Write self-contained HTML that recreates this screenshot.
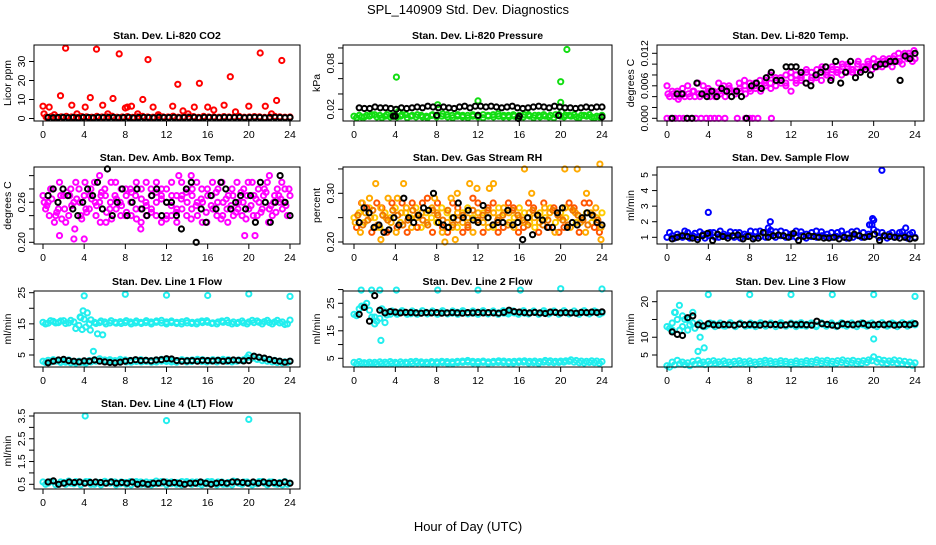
<!DOCTYPE html>
<html><head><meta charset="utf-8">
<style>
html,body{margin:0;padding:0;background:#fff;}
svg text{font-family:"Liberation Sans",sans-serif;fill:#000;}
</style></head>
<body>
<svg id="chart" width="936" height="540" viewBox="0 0 936 540" xmlns="http://www.w3.org/2000/svg">
<rect width="936" height="540" fill="#fff"/>
<text x="468" y="14" font-size="13" text-anchor="middle">SPL_140909  Std. Dev. Diagnostics</text>
<text x="468" y="531" font-size="13" text-anchor="middle">Hour of Day (UTC)</text>
</svg>
<script>
// ---------- data ----------
const hourTicks = [0,4,8,12,16,20,24];
const hourLabels = ["0","4","8","12","16","20","24"];

// CO2
const co2OutX = [0,0.1,0.6,1.1,1.7,2.2,2.8,3.3,4.1,4.6,5.2,5.8,6.3,6.8,7.4,8,8.2,8.6,9.2,9.7,10.2,10.7,11.2,12.6,13.1,13.6,14.1,14.7,15.2,16,16.6,17.6,18.2,18.7,20,21.1,21.6,22.2,22.7,23.2];
const co2OutY = [6.5,2.5,6,2,12,37,7,2.5,6,11,36.5,7,2.5,10.5,34,5.5,6,6.5,2.5,10,31,6,2,6.5,18,4,2.5,6,18.5,6,4.5,7,22,3.5,6.5,34.5,6.5,2.5,9.5,30.5];
const co2Red = [0.8,1.0,0.7,0.9,1.1,0.8,0.6,1.0,0.9,0.7,1.1,0.8,0.9,1.2,0.7,0.8,1.0,0.6,0.9,1.1,0.8,0.7,1.0,0.9,0.8,1.2,0.7,0.9,0.8,1.0,0.6,1.1,0.8,0.9,0.7,1.0,0.8,0.9,1.1,0.7,0.8,1.0,0.9,0.6,0.8,1.1,0.9,0.7,0.8];
const co2Black = [0.5,0.4,0.5,0.6,0.4,0.5,0.3,0.6,0.5,0.4,0.6,0.5,0.5,0.6,0.4,0.5,0.6,0.3,0.5,0.6,0.5,0.4,0.6,0.5,0.5,0.6,0.4,0.5,0.5,0.6,0.3,0.6,0.5,0.5,0.4,0.6,0.5,0.5,0.6,0.4,0.5,0.6,0.5,0.3,0.5,0.6,0.5,0.4,0.5];

// Pressure
const presGreenA = [0.011,0.012,0.010,0.011,0.013,0.012,0.011,0.010,0.012,0.011,0.013,0.011,0.010,0.012,0.011,0.012,0.010,0.011,0.013,0.012,0.011,0.010,0.012,0.011,0.012,0.013,0.011,0.010,0.011,0.012,0.010,0.011,0.012,0.013,0.011,0.012,0.010,0.011,0.012,0.013,0.011,0.012,0.011,0.010,0.012,0.011,0.010,0.011,0.012];
const presGreenB = [0.009,0.010,0.012,0.013,0.010,0.009,0.013,0.012,0.010,0.013,0.009,0.012,0.013,0.010,0.009,0.013,0.012,0.014,0.010,0.009,0.013,0.012,0.009,0.013,0.010,0.009,0.012,0.013,0.014,0.010,0.012,0.013,0.009,0.010,0.013,0.009,0.012,0.013,0.010,0.009,0.013,0.010,0.012,0.013,0.009,0.012,0.013,0.009,0.010];
const presOutX = [4.1,4.3,8.1,12,20,20,20.1,20.6];
const presOutY = [0.062,0.017,0.026,0.031,0.056,0.029,0.017,0.098];
const presBlack = [0.022,0.021,0.021,0.023,0.022,0.022,0.021,0.020,0.022,0.021,0.022,0.023,0.022,0.024,0.023,0.022,0.023,0.022,0.021,0.023,0.024,0.022,0.024,0.024,0.023,0.024,0.023,0.022,0.023,0.024,0.022,0.021,0.022,0.023,0.024,0.023,0.022,0.024,0.023,0.022,0.022,0.021,0.022,0.023,0.022,0.023,0.023];
const presBlackLowX = [4,3.8,8,12,16,15.9,19.8,24];
const presBlackLowY = [0.011,0.011,0.012,0.012,0.011,0.008,0.012,0.010];

// Li-820 temperature
const tempMagA = [0.006,0.005,0.005,0.0055,0.006,0.005,0.0065,0.006,0.0055,0.005,0.0065,0.006,0.006,0.005,0.0065,0.007,0.0065,0.006,0.007,0.0065,0.008,0.007,0.0075,0.0065,0.0085,0.007,0.008,0.0085,0.0075,0.009,0.0095,0.008,0.009,0.0085,0.0095,0.010,0.009,0.0105,0.0095,0.010,0.011,0.010,0.0105,0.011,0.0115,0.0105,0.012,0.0115,0.011];
const tempMagB = [0.004,0.004,0.004,0.004,0.004,0.004,0.004,0.0045,0.004,0.004,0.0045,0.004,0.005,0.0045,0.005,0.0045,0.005,0.0055,0.005,0.006,0.0055,0.006,0.0065,0.006,0.005,0.0065,0.007,0.0065,0.007,0.0075,0.007,0.008,0.0075,0.0085,0.008,0.0085,0.009,0.0085,0.009,0.0095,0.009,0.0095,0.0095,0.010,0.0095,0.0105,0.010,0.011,0.0105];
const tempMagC = [0.0045,0.0045,0.0035,0.0045,0.0045,0.005,0.0045,0.0045,0.005,0.0045,0.005,0.005,0.0055,0.005,0.0055,0.006,0.0055,0.0065,0.006,0.007,0.0065,0.0075,0.007,0.008,0.0075,0.008,0.0075,0.009,0.0085,0.008,0.009,0.0085,0.0095,0.009,0.010,0.0095,0.0085,0.010,0.0095,0.0105,0.010,0.0105,0.011,0.0105,0.011,0.012,0.0115,0.012,0.0125];
const tempZeroX = [0,0.4,0.8,1.2,1.6,2.0,2.4,2.8,3.3,3.8,4.2,4.6,5.0,5.6,6.8,7.6,8.0,8.3,8.8,10.1];
const tempZeroY = [0,0,0,0,0,0,0,0,0,0,0,0,0,0,0,0,0,0,0,0];
const tempBlack = [0.000,0.0045,0.0045,0.000,0.000,0.0065,0.0045,0.004,0.005,0.004,0.0055,0.005,0.004,0.005,0.004,0.000,0.006,0.0065,0.0055,0.0075,0.0085,0.007,0.007,0.0095,0.0095,0.0095,0.0085,0.0065,0.006,0.008,0.0085,0.0095,0.007,0.0105,0.0065,0.0085,0.0105,0.0075,0.0085,0.009,0.008,0.0095,0.010,0.010,0.0105,0.0105,0.007,0.0115,0.011,0.012];

// Ambient box temperature
const ambA = [0.27,0.26,0.28,0.25,0.27,0.24,0.26,0.28,0.27,0.25,0.29,0.26,0.28,0.25,0.27,0.26,0.24,0.28,0.27,0.25,0.26,0.28,0.24,0.27,0.26,0.29,0.25,0.27,0.26,0.28,0.24,0.26,0.27,0.25,0.28,0.26,0.27,0.24,0.26,0.28,0.25,0.27,0.26,0.28,0.25,0.27,0.26,0.28,0.27];
const ambB = [0.25,0.28,0.24,0.27,0.23,0.28,0.29,0.24,0.25,0.28,0.24,0.27,0.23,0.29,0.25,0.28,0.27,0.24,0.29,0.28,0.24,0.25,0.29,0.23,0.28,0.24,0.27,0.29,0.24,0.25,0.29,0.28,0.23,0.27,0.24,0.29,0.25,0.28,0.29,0.24,0.27,0.29,0.24,0.25,0.29,0.24,0.28,0.25,0.24];
const ambC = [0.26,0.24,0.23,0.29,0.25,0.27,0.22,0.26,0.29,0.27,0.26,0.23,0.27,0.26,0.29,0.24,0.28,0.26,0.25,0.23,0.29,0.27,0.26,0.28,0.24,0.27,0.23,0.25,0.28,0.27,0.26,0.23,0.28,0.29,0.26,0.24,0.23,0.27,0.25,0.26,0.29,0.24,0.28,0.27,0.23,0.26,0.27,0.26,0.28];
const ambD = [0.255,0.265,0.245,0.235,0.275,0.255,0.265,0.235,0.245,0.265,0.255,0.275,0.245,0.235,0.265,0.255,0.245,0.275,0.235,0.265,0.255,0.245,0.275,0.265,0.235,0.255,0.245,0.265,0.275,0.235,0.255,0.265,0.245,0.255,0.275,0.235,0.265,0.255,0.245,0.275,0.235,0.255,0.265,0.245,0.275,0.255,0.245,0.265,0.255];
const ambOutX = [1.6,3.0,4.0,5.5,9.5,13.2,14.4,19.6,20.6,22.0,23.2];
const ambOutY = [0.21,0.205,0.205,0.3,0.22,0.3,0.3,0.21,0.21,0.3,0.29];
const ambBlack = [0.27,0.28,0.26,0.28,0.27,0.25,0.24,0.26,0.28,0.27,0.29,0.25,0.31,0.24,0.26,0.28,0.24,0.26,0.28,0.25,0.24,0.27,0.28,0.24,0.26,0.26,0.24,0.22,0.28,0.29,0.20,0.25,0.23,0.27,0.25,0.29,0.28,0.25,0.26,0.27,0.25,0.27,0.23,0.29,0.26,0.23,0.26,0.30,0.26,0.24];

// Gas stream RH
const rhA = [0.25,0.26,0.24,0.27,0.25,0.23,0.26,0.25,0.27,0.24,0.26,0.25,0.27,0.23,0.26,0.25,0.24,0.27,0.26,0.25,0.23,0.26,0.27,0.25,0.24,0.26,0.25,0.23,0.27,0.26,0.24,0.25,0.27,0.26,0.24,0.23,0.26,0.25,0.27,0.24,0.26,0.25,0.27,0.24,0.25,0.26,0.24,0.25,0.26];
const rhB = [0.23,0.28,0.27,0.22,0.28,0.27,0.22,0.28,0.23,0.28,0.22,0.28,0.23,0.28,0.29,0.22,0.28,0.23,0.22,0.28,0.27,0.22,0.23,0.29,0.28,0.22,0.27,0.28,0.22,0.23,0.28,0.27,0.22,0.23,0.28,0.27,0.22,0.28,0.23,0.27,0.22,0.23,0.28,0.27,0.22,0.28,0.28,0.23,0.22];
const rhC = [0.24,0.22,0.26,0.25,0.23,0.27,0.25,0.24,0.22,0.26,0.27,0.23,0.25,0.26,0.24,0.27,0.26,0.22,0.24,0.23,0.26,0.24,0.25,0.22,0.26,0.24,0.23,0.26,0.25,0.27,0.26,0.23,0.25,0.24,0.26,0.25,0.24,0.27,0.26,0.22,0.25,0.27,0.23,0.26,0.24,0.22,0.26,0.27,0.23];
const rhD = [0.255,0.235,0.245,0.265,0.235,0.255,0.245,0.265,0.255,0.235,0.245,0.265,0.255,0.245,0.235,0.265,0.255,0.245,0.265,0.235,0.245,0.255,0.235,0.265,0.245,0.255,0.265,0.235,0.245,0.255,0.235,0.265,0.255,0.245,0.235,0.265,0.255,0.235,0.245,0.265,0.255,0.245,0.235,0.265,0.255,0.245,0.235,0.255,0.245];
const rhOutX = [0.8,1.5,2.1,3.3,4.2,4.8,7.8,9.4,10,11.2,11.9,13.1,13.5,16.5,17.2,20.4,21.6,22.5,23.8,23.9,2.6,8.8,9.8];
const rhOutY = [0.28,0.29,0.32,0.29,0.29,0.32,0.29,0.29,0.30,0.32,0.31,0.31,0.32,0.35,0.30,0.35,0.35,0.30,0.36,0.205,0.205,0.20,0.205];
const rhBlack = [0.24,0.27,0.26,0.23,0.235,0.22,0.225,0.25,0.235,0.29,0.25,0.24,0.255,0.27,0.265,0.30,0.24,0.235,0.23,0.25,0.28,0.25,0.265,0.245,0.24,0.275,0.25,0.235,0.24,0.24,0.265,0.235,0.24,0.205,0.25,0.215,0.255,0.245,0.23,0.23,0.26,0.27,0.23,0.24,0.235,0.25,0.26,0.255,0.24,0.235];

// Sample flow
const sampA = [1.0,1.1,1.2,1.0,1.3,1.1,1.0,1.2,1.1,1.3,1.0,1.2,1.1,1.0,1.3,1.2,1.1,1.0,1.4,1.3,1.2,1.0,1.1,1.3,1.2,1.0,1.1,1.2,1.3,1.0,1.1,1.2,1.0,1.3,1.1,1.2,1.0,1.1,1.3,1.2,1.5,1.0,1.1,1.2,1.0,1.3,1.1,1.2,1.0];
const sampB = [1.3,0.95,1.05,1.4,0.95,1.25,1.35,0.95,1.3,1.0,1.4,1.05,1.35,1.3,0.95,1.05,1.4,1.35,1.05,1.0,1.45,1.35,1.4,1.0,1.05,1.4,1.35,0.95,1.05,1.4,1.35,1.0,1.3,1.05,1.4,0.95,1.35,1.4,1.0,1.05,1.8,1.35,1.3,0.95,1.3,1.05,1.35,0.95,1.3];
const sampOutX = [4.0,9.8,10.0,19.6,19.9,20.0,20.8,23.1];
const sampOutY = [2.6,1.6,2.0,1.8,2.2,2.1,5.3,1.6];
const sampBlack = [0.9,1.0,1.1,1.05,0.95,0.85,1.1,1.25,0.8,1.2,1.05,0.95,1.1,1.15,0.9,1.05,0.9,0.95,1.3,1.0,1.1,1.15,1.1,1.0,1.25,0.8,1.05,1.1,1.05,1.0,0.95,0.95,1.0,0.9,1.0,0.95,1.2,1.1,1.0,1.05,1.2,0.8,1.1,1.05,1.0,0.95,1.0,0.9,0.95];

// Line 1 flow
const l1HighA = [15.5,15.2,15.8,15.4,16.0,15.3,15.6,14.5,16.5,15.0,15.5,15.4,15.6,15.3,15.5,15.7,15.4,15.6,15.3,15.5,15.4,15.6,15.5,15.3,15.6,15.4,15.5,15.7,15.3,15.5,15.6,15.4,15.5,15.3,15.6,15.5,15.4,15.6,15.5,15.3,15.6,15.4,15.5,15.7,15.4,15.6,15.3,14.8,16.2];
const l1HighB = [15.0,16.0,15.3,15.9,15.1,16.1,13.5,17.0,14.0,16.3,15.1,15.9,15.0,16.0,15.2,15.1,16.0,15.0,15.9,15.1,16.0,15.0,15.9,16.1,15.0,15.9,15.1,15.0,16.0,15.1,15.0,15.9,16.0,15.1,15.0,15.9,16.1,15.0,15.1,15.9,15.0,16.1,15.9,15.0,16.1,15.0,16.1,15.6,15.0];
const l1LowA = [3.0,3.3,3.5,3.2,3.0,3.4,2.8,3.0,2.6,3.2,3.5,3.8,3.4,3.5,3.2,3.6,3.4,3.3,3.2,3.5,3.3,3.2,3.4,3.6,3.3,3.4,3.2,3.5,3.3,3.4,3.6,3.5,3.3,3.5,3.4,3.6,3.5,3.3,3.4,3.5,5.0,4.6,4.2,3.8,3.5,3.3,3.0,2.8,3.0];
const l1LowB = [2.6,2.8,3.0,2.6,2.7,2.5,2.4,2.6,2.4,2.8,3.0,3.1,2.9,3.0,2.8,3.0,2.8,2.7,2.9,2.8,2.9,2.7,2.8,3.0,2.9,2.8,2.7,3.0,2.8,2.9,3.1,2.9,2.8,3.0,2.8,3.1,2.9,2.8,3.0,3.2,4.2,4.0,3.6,3.2,3.0,2.8,2.6,2.5,2.6];
const l1OutX = [4.0,8.0,12.0,16.0,20.0,24.0,3.6,3.9,4.3,4.6,5.3,5.8,4.9,3.8];
const l1OutY = [24,24.5,24.2,24.1,24.6,23.8,17.2,19.2,18.5,13,11.8,11.5,6.2,13.2];
const l1Black = [2.5,3.0,3.4,3.6,3.2,3.0,2.8,3.1,3.0,3.4,3.0,2.8,2.6,2.5,2.7,3.0,3.2,3.5,3.2,3.3,3.1,3.4,3.5,3.8,3.7,3.2,3.0,3.1,3.2,3.0,3.3,3.2,3.1,3.3,3.0,3.2,3.4,3.3,3.1,3.2,4.6,4.3,4.0,3.6,3.2,3.0,2.7,3.0];

// Line 2 flow
const l2HighA = [21,23,24,22.5,20,19.5,22,21,21.5,21.8,21.5,21.2,21.6,21.4,21.7,21.5,21.3,21.6,21.5,21.4,21.7,21.5,21.6,21.4,21.5,21.7,21.3,21.6,21.5,21.4,21.7,21.5,21.6,21.4,21.5,21.7,21.4,21.6,21.5,21.7,21.4,21.6,21.5,21.4,21.7,21.5,21.6,21.8,21.5];
const l2HighB = [20.5,24,25,20,18.5,23,20.8,22.2,21,22.3,21,22.2,21.0,22.3,21.1,22.2,21.0,22.3,21.1,22.2,21.0,22.3,21.1,22.2,21.0,22.3,21.1,22.2,21.0,22.3,21.1,22.2,21.0,22.3,21.1,22.2,21.0,22.3,21.1,22.2,21.0,22.3,21.1,22.2,21.0,22.3,21.1,22.2,21.0];
const l2LowA = [3.5,3.8,3.4,3.6,3.5,3.7,3.6,3.8,3.5,3.7,3.6,3.8,3.9,3.7,3.6,3.8,3.7,3.9,3.8,3.7,3.9,4.0,4.2,3.9,3.8,4.0,3.7,3.9,4.1,4.0,3.8,3.9,4.0,4.1,3.9,4.0,3.8,4.2,4.1,3.9,4.0,4.1,4.4,4.2,4.0,3.9,4.1,4.0,3.8];
const l2LowB = [3.0,3.2,3.0,3.1,2.9,3.1,3.0,3.2,3.1,3.0,3.2,3.1,3.3,3.2,3.0,3.3,3.2,3.4,3.2,3.1,3.4,3.5,3.6,3.3,3.2,3.5,3.2,3.4,3.5,3.4,3.3,3.3,3.5,3.6,3.3,3.4,3.2,3.6,3.5,3.4,3.5,3.6,3.9,3.6,3.4,3.3,3.5,3.4,3.2];
const l2OutX = [0.7,1.7,2.5,4.1,8.1,12.0,16.1,20.0,24.0,2.6,2.0,3.0];
const l2OutY = [29.8,29.8,29.8,29.8,29.8,29.8,29.8,30.3,30.2,11.5,17.5,18];
const l2Black = [21,23.5,18.5,27.8,22.5,21.5,22,21.8,21.5,21.7,21.6,21.5,21.4,21.6,21.5,21.6,21.4,21.5,21.6,21.5,21.4,21.6,21.5,21.7,21.5,21.6,21.5,21.4,21.7,22.5,22,21.8,21.6,21.5,21.7,21.5,21.3,21.8,21.7,21.5,21.6,21.5,21.4,21.7,21.6,21.8,21.6,21.9];

// Line 3 flow
const l3HighA = [13,14,15,13,12,14,13.5,13,13.5,13.8,13.5,13.2,13.6,13.4,13.7,13.5,13.3,13.6,13.5,13.4,13.7,13.5,13.6,13.4,13.5,13.7,13.3,13.6,13.5,13.4,13.7,13.5,13.6,13.4,13.5,13.7,13.4,13.6,13.5,13.7,13.4,13.6,13.5,13.4,13.7,13.5,13.6,13.8,13.5];
const l3HighB = [12.5,17,12,15,13.5,12.5,14,13,14,13,14,13.1,14.1,13,14,13.1,14,13.0,14.1,13.1,14,13.0,14.1,13.1,14,13.0,14.1,13.1,14,13.0,14.1,13.1,14,13.0,14.1,13.1,14,13.0,14.1,13.1,14,13.0,14.1,13.1,14,13.0,14.1,13.1,14];
const l3LowA = [2.0,3.0,3.5,3.0,2.8,3.2,3.5,3.0,3.2,3.4,3.1,3.3,3.0,3.2,3.4,3.1,3.3,3.0,3.2,3.5,3.3,3.1,3.4,3.2,3.0,3.3,3.1,3.4,3.2,3.6,3.3,3.5,3.2,3.4,3.6,3.3,3.5,3.2,3.4,3.6,4.5,3.8,3.5,3.3,3.6,3.4,3.2,3.0,2.8];
const l3LowB = [1.6,2.2,2.5,2.3,2.0,2.4,2.6,2.3,2.5,2.7,2.4,2.6,2.3,2.5,2.7,2.4,2.6,2.3,2.5,2.8,2.6,2.4,2.7,2.5,2.3,2.6,2.4,2.7,2.5,2.9,2.6,2.8,2.5,2.7,2.9,2.6,2.8,2.5,2.7,2.9,3.4,3.0,2.8,2.6,2.9,2.7,2.5,2.3,2.1];
const l3OutX = [0.8,1.2,1.5,2.0,2.5,3.2,3.6,3.0,4.0,8.0,12.0,16.0,20.0,24.0,20.0,0.5];
const l3OutY = [17,19,16,15,17,10,7,6,22,22,22,22,22,21.5,9.5,12];
const l3Black = [11.5,10.8,10.5,15.5,16,13.5,13.2,13.8,13.5,13.4,13.6,13.5,13.4,13.7,13.5,13.6,13.5,13.4,13.7,13.5,13.6,13.4,13.5,13.7,13.5,13.6,13.5,13.4,14.5,13.8,13.6,13.4,13.2,13.8,13.6,13.5,13.7,13.9,13.4,13.5,13.6,13.5,13.7,13.4,13.5,13.6,13.5,13.8];

// Line 4 flow
const l4A = [0.6,0.55,0.62,0.5,0.58,0.64,0.52,0.6,0.56,0.62,0.5,0.58,0.63,0.55,0.6,0.52,0.58,0.62,0.55,0.6,0.5,0.58,0.64,0.55,0.6,0.53,0.58,0.62,0.55,0.6,0.52,0.58,0.62,0.55,0.6,0.5,0.58,0.64,0.55,0.6,0.53,0.58,0.62,0.55,0.6,0.52,0.58,0.62,0.55];
const l4B = [0.5,0.62,0.48,0.6,0.5,0.55,0.62,0.48,0.62,0.5,0.6,0.48,0.55,0.62,0.48,0.6,0.5,0.48,0.62,0.5,0.6,0.48,0.52,0.62,0.48,0.6,0.5,0.48,0.62,0.5,0.6,0.48,0.52,0.62,0.48,0.6,0.5,0.48,0.62,0.5,0.6,0.48,0.52,0.62,0.48,0.6,0.5,0.48,0.5];
const l4OutX = [4.1,12.0,20.0];
const l4OutY = [3.5,3.3,3.35];
const l4Black = [0.6,0.65,0.5,0.55,0.6,0.58,0.6,0.55,0.58,0.6,0.58,0.55,0.6,0.55,0.58,0.55,0.6,0.5,0.55,0.5,0.55,0.55,0.6,0.55,0.58,0.55,0.5,0.55,0.55,0.6,0.55,0.5,0.55,0.58,0.55,0.6,0.6,0.58,0.55,0.6,0.55,0.6,0.55,0.58,0.55,0.6,0.55];

// ---------- layout ----------
const panels = [
 {name:"co2",title:"Stan. Dev. Li-820 CO2",ylab:"Licor ppm",box:[34,45,300,121],x0:43,x24:290,yr:[0,118.5,30,61.5],ticks:[0,10,20,30],labels:["0","10","20","30"],
  series:[{ys:co2Red,c:"#ff0000",a:0.3,b:24},{xs:co2OutX,ys:co2OutY,c:"#ff0000"},{ys:co2Black,c:"#000",a:0.5,b:24}]},
 {name:"pressure",title:"Stan. Dev. Li-820 Pressure",ylab:"kPa",box:[343,45,612,121],x0:354,x24:602,yr:[0.02,109.3,0.08,63.3],ticks:[0.02,0.04,0.06,0.08,0.10],labels:["0.02","","","0.08",""],
  series:[{ys:presGreenA,c:"#11dd11",a:0,b:24},{ys:presGreenB,c:"#11dd11",a:0.25,b:23.75},{xs:presOutX,ys:presOutY,c:"#11dd11"},{ys:presBlack,c:"#000",a:0.5,b:24},{xs:presBlackLowX,ys:presBlackLowY,c:"#000"}]},
 {name:"temp",title:"Stan. Dev. Li-820 Temp.",ylab:"degrees C",box:[657,45,924,121],x0:667,x24:915,yr:[0,118.3,0.012,53.3],ticks:[0,0.002,0.004,0.006,0.008,0.010,0.012],labels:["0.000","","","0.006","","","0.012"],
  series:[{ys:tempMagA,c:"#ff00ff",a:0,b:24},{ys:tempMagB,c:"#ff00ff",a:0.25,b:23.75},{ys:tempMagC,c:"#ff00ff",a:0.1,b:23.9},{xs:tempZeroX,ys:tempZeroY,c:"#ff00ff"},{ys:tempBlack,c:"#000",a:0.5,b:24}]},
 {name:"amb-temp",title:"Stan. Dev. Amb. Box Temp.",ylab:"degrees C",box:[34,167,300,244],x0:43,x24:290,yr:[0.20,242.3,0.26,202.3],ticks:[0.20,0.22,0.24,0.26,0.28,0.30],labels:["0.20","","","0.26","",""],
  series:[{ys:ambA,c:"#ff00ff",a:0,b:24},{ys:ambB,c:"#ff00ff",a:0.25,b:23.75},{ys:ambC,c:"#ff00ff",a:0.12,b:23.9},{ys:ambD,c:"#ff00ff",a:0.37,b:23.6},{xs:ambOutX,ys:ambOutY,c:"#ff00ff"},{ys:ambBlack,c:"#000",a:0.5,b:24}]},
 {name:"rh",title:"Stan. Dev. Gas Stream RH",ylab:"percent",box:[343,167,612,244],x0:354,x24:602,yr:[0.20,242,0.30,193.3],ticks:[0.20,0.25,0.30,0.35],labels:["0.20","","0.30",""],
  series:[{ys:rhA,c:"#ffcc00",a:0,b:24},{ys:rhB,c:"#ff5500",a:0.25,b:23.75},{ys:rhC,c:"#ffaa00",a:0.12,b:23.9},{ys:rhD,c:"#ee7700",a:0.37,b:23.6},{xs:rhOutX,ys:rhOutY,c:"#ffaa00"},{ys:rhBlack,c:"#000",a:0.5,b:24}]},
 {name:"sample-flow",title:"Stan. Dev. Sample Flow",ylab:"ml/min",box:[657,167,924,244],x0:667,x24:915,yr:[1,237.3,5,175],ticks:[1,2,3,4,5],labels:["1","2","3","4","5"],
  series:[{ys:sampA,c:"#0000ff",a:0,b:24},{ys:sampB,c:"#0000ff",a:0.25,b:23.75},{xs:sampOutX,ys:sampOutY,c:"#0000ff"},{ys:sampBlack,c:"#000",a:0.5,b:24}]},
 {name:"line1-flow",title:"Stan. Dev. Line 1 Flow",ylab:"ml/min",box:[34,291,300,367],x0:43,x24:290,yr:[5,355,25,292.7],ticks:[5,10,15,20,25],labels:["5","","15","","25"],
  series:[{ys:l1HighA,c:"#22eeee",a:0,b:24},{ys:l1HighB,c:"#22eeee",a:0.25,b:23.75},{ys:l1LowA,c:"#22eeee",a:0,b:24},{ys:l1LowB,c:"#22eeee",a:0.25,b:23.75},{xs:l1OutX,ys:l1OutY,c:"#22eeee"},{ys:l1Black,c:"#000",a:0.5,b:24}]},
 {name:"line2-flow",title:"Stan. Dev. Line 2 Flow",ylab:"ml/min",box:[343,291,612,367],x0:354,x24:602,yr:[5,358.3,25,303.3],ticks:[5,10,15,20,25,30],labels:["5","","15","","25",""],
  series:[{ys:l2HighA,c:"#22eeee",a:0,b:24},{ys:l2HighB,c:"#22eeee",a:0.25,b:23.75},{ys:l2LowA,c:"#22eeee",a:0,b:24},{ys:l2LowB,c:"#22eeee",a:0.25,b:23.75},{xs:l2OutX,ys:l2OutY,c:"#22eeee"},{ys:l2Black,c:"#000",a:0.5,b:24}]},
 {name:"line3-flow",title:"Stan. Dev. Line 3 Flow",ylab:"ml/min",box:[657,291,924,367],x0:667,x24:915,yr:[5,355,20,301.7],ticks:[5,10,15,20],labels:["5","10","","20"],
  series:[{ys:l3HighA,c:"#22eeee",a:0,b:24},{ys:l3HighB,c:"#22eeee",a:0.25,b:23.75},{ys:l3LowA,c:"#22eeee",a:0,b:24},{ys:l3LowB,c:"#22eeee",a:0.25,b:23.75},{xs:l3OutX,ys:l3OutY,c:"#22eeee"},{ys:l3Black,c:"#000",a:0.5,b:24}]},
 {name:"line4-flow",title:"Stan. Dev. Line 4 (LT) Flow",ylab:"ml/min",box:[34,413,300,489],x0:43,x24:290,yr:[0.5,484.3,3.5,416],ticks:[0.5,1,1.5,2,2.5,3,3.5],labels:["0.5","","1.5","","2.5","","3.5"],
  series:[{ys:l4A,c:"#22eeee",a:0,b:24},{ys:l4B,c:"#22eeee",a:0.25,b:23.75},{xs:l4OutX,ys:l4OutY,c:"#22eeee"},{ys:l4Black,c:"#000",a:0.5,b:24}]}
];

const NS="http://www.w3.org/2000/svg";
const svg=document.getElementById("chart");
function mk(tag,attrs,parent){const e=document.createElementNS(NS,tag);for(const k in attrs)e.setAttribute(k,attrs[k]);parent.appendChild(e);return e;}

panels.forEach(p=>{
  const g=mk("g",{},svg);
  
  
  const [bx0,by0,bx1,by1]=p.box;
  const xs=h=>p.x0+(p.x24-p.x0)*h/24;
  const ys=v=>p.yr[1]+(v-p.yr[0])*(p.yr[3]-p.yr[1])/(p.yr[2]-p.yr[0]);
  const t=mk("text",{x:(bx0+bx1)/2,y:by0-6,"font-size":"10.5","font-weight":"bold","text-anchor":"middle"},g);
  t.textContent=p.title;
  
  
  const pg=mk("g",{fill:"none","stroke-width":"2"},g);
  
  
  p.series.forEach(s=>{
    s.ys.forEach((v,i)=>{
      const h = s.xs ? s.xs[i] : s.a+(s.b-s.a)*i/Math.max(1,s.ys.length-1);
      const c=mk("circle",{cx:xs(h).toFixed(1),cy:ys(v).toFixed(1),r:"2.6",stroke:s.c},pg);
      
      
    });
  });
  const b=mk("rect",{x:bx0,y:by0,width:bx1-bx0,height:by1-by0,fill:"none",stroke:"#000","stroke-width":"1"},g);
  
  
  const xa=mk("g",{},g);
  
  
  mk("line",{x1:xs(0),x2:xs(24),y1:by1,y2:by1,stroke:"#000"},xa);
  hourTicks.forEach((h,i)=>{
    mk("line",{x1:xs(h),x2:xs(h),y1:by1,y2:by1+5,stroke:"#000"},xa);
    const tl=mk("text",{x:xs(h),y:by1+17,"font-size":"10.5","text-anchor":"middle"},xa);
    tl.textContent=hourLabels[i];
    
    
  });
  const ya=mk("g",{},g);
  
  
  const yt0=ys(p.ticks[0]), yt1=ys(p.ticks[p.ticks.length-1]);
  mk("line",{x1:bx0,x2:bx0,y1:yt0,y2:yt1,stroke:"#000"},ya);
  p.ticks.forEach((v,i)=>{
    const y=ys(v);
    mk("line",{x1:bx0-5,x2:bx0,y1:y,y2:y,stroke:"#000"},ya);
    if(p.labels[i]){
      const tl=mk("text",{x:bx0-9,y:y,"font-size":"10.5","text-anchor":"middle",transform:`rotate(-90 ${bx0-9} ${y})`},ya);
      tl.textContent=p.labels[i];
      
      
    }
  });
  const yl=mk("text",{x:bx0-23,y:(by0+by1)/2,"font-size":"10.5","text-anchor":"middle",transform:`rotate(-90 ${bx0-23} ${(by0+by1)/2})`},g);
  yl.textContent=p.ylab;
  
  
});
</script>
</body></html>
